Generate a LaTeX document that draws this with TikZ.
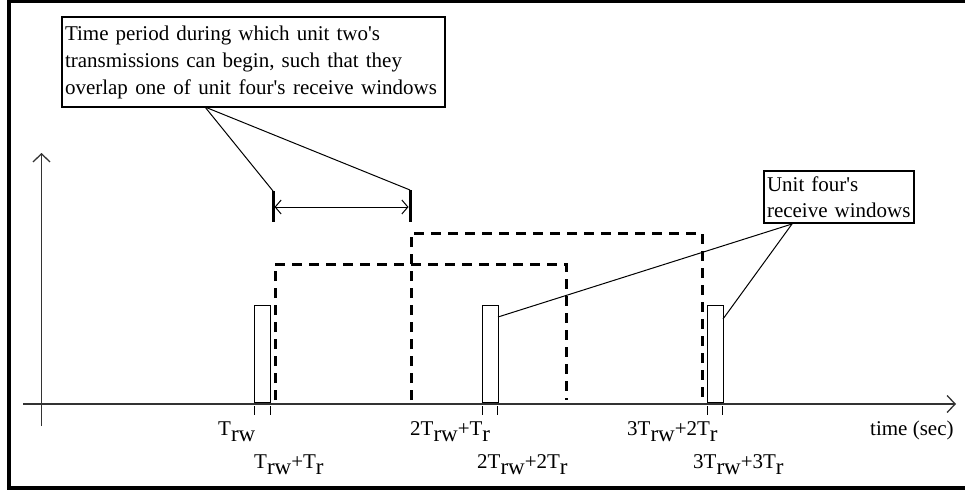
\documentclass[tikz,border=0pt]{standalone}
\usepackage{fontspec}
\setmainfont{Liberation Serif}
\usetikzlibrary{arrows.meta}
\newcommand{\lowsub}[1]{\raisebox{-6.5pt}{\fontsize{23}{27}\selectfont #1}}
\newcommand{\Trw}{T\lowsub{rw}}
\newcommand{\Tr}{T\lowsub{r}}
\newcommand{\ap}{\textquotesingle}
\newcommand{\wsp}{\hspace{0pt plus 1fill}}
\newcommand{\spreadline}[2]{\leavevmode\hbox to #1{#2}}
\begin{document}
\begin{tikzpicture}[x=1pt,y=-1pt,
  lbl/.style={anchor=base west, inner sep=0pt, font=\fontsize{21}{27}\selectfont},
  axisline/.style={line width=1.3pt, draw=black!80, -{Straight Barb[length=8pt,width=17pt,line width=1.3pt]}},
  win/.style={draw, line width=1.3pt, minimum width=16pt, minimum height=97pt, inner sep=0pt, anchor=south west},
  dsh/.style={line width=3pt, dash pattern=on 10pt off 7pt},
  tickmark/.style={line width=1.3pt},
  leader/.style={line width=1pt},
  bar/.style={line width=3pt},
  callout/.style={draw, line width=1.3pt, align=left, inner ysep=0pt, inner xsep=3pt}]
\useasboundingbox (0,0) rectangle (965,490);
% frame
\fill (7,0) rectangle (11,490);
\fill (7,0) rectangle (965,2.5);
\fill (7,486) rectangle (965,490);
% dashed transmission periods
\draw[dsh] (275,400) -- (275,264) -- (566,264) -- (566,400);
\draw[dsh] (411,400) -- (411,233) -- (702,233) -- (702,403);
% axes
\draw[axisline] (23,404) -- (956,404);
\draw[axisline] (41.5,426) -- (41.5,153);
% receive windows
\node[win] (w1) at (254,403) {};
\node[win] (w2) at (482,403) {};
\node[win] (w3) at (707,403) {};
% ticks
\foreach \x in {254.5,270.5,482.5,497.5,707.5,722.5}
  \draw[tickmark] (\x,406) -- (\x,415);
% labels
\node[lbl] (l1) at (218,435) {\Trw};
\node[lbl] (l2) at (254,468) {\Trw+\Tr};
\node[lbl] (l3) at (410,435) {2\Trw+\Tr};
\node[lbl] (l4) at (477,468) {2\Trw+2\Tr};
\node[lbl] (l5) at (627,435) {3\Trw+2\Tr};
\node[lbl] (l6) at (693,468) {3\Trw+3\Tr};
\node[lbl] (tl) at (870,435) {time (sec)};
% callout boxes
\node[callout, minimum width=383pt, minimum height=90pt, text width=377pt,
      font=\fontsize{21}{27}\selectfont] (tb) at (253.5,62)
  {\spreadline{315pt}{Time\wsp\ period\wsp\ during\wsp\ which\wsp\ unit\wsp\ two\ap s}\\
   \spreadline{337pt}{transmissions\wsp\ can\wsp\ begin,\wsp\ such\wsp\ that\wsp\ they}\\
   \spreadline{372pt}{overlap\wsp\ one\wsp\ of\wsp\ unit\wsp\ four\ap s\wsp\ receive\wsp\ windows}};
\node[callout, minimum width=150pt, minimum height=52pt, text width=144pt,
      font=\fontsize{21}{26}\selectfont] (rb) at (839,197)
  {Unit four\ap s\\receive windows};
% interval marker
\coordinate (ia) at (273,191);
\coordinate (ib) at (410,190);
\coordinate (iab) at (273,222);
\coordinate (ibb) at (410,222);
\draw[bar] (ia) -- (iab);
\draw[bar] (ib) -- (ibb);
\coordinate (aa) at (274.5,207);
\coordinate (ab) at (408.5,207);
\draw[leader, {Straight Barb[length=6pt,width=14pt,line width=1pt]}-{Straight Barb[length=6pt,width=14pt,line width=1pt]}] (aa) -- (ab);
% leaders from top box
\coordinate (tbo) at (205,107);
\draw[leader] (tbo) -- (ia);
\draw[leader] (tbo) -- (ib);
% leaders from right box
\coordinate (rbo) at (792,224);
\coordinate (w2p) at (498,317);
\coordinate (w3p) at (723,319);
\draw[leader] (rbo) -- (w2p);
\draw[leader] (rbo) -- (w3p);
\end{tikzpicture}
\end{document}
